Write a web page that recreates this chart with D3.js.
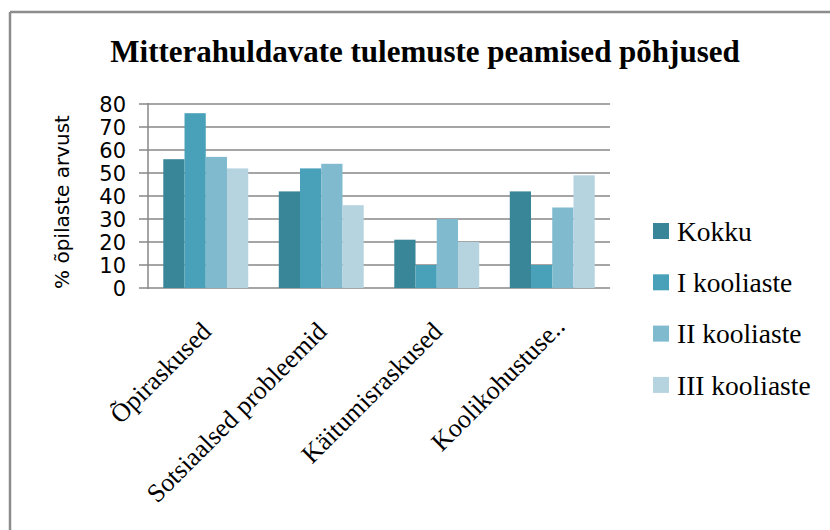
<!DOCTYPE html>
<html>
<head>
<meta charset="utf-8">
<script src="https://cdn.jsdelivr.net/npm/d3@7"></script>
<style>
  body { margin: 0; background: #fff; }
  svg { display: block; }
</style>
</head>
<body>
<svg id="chart" width="830" height="530"></svg>
<script>
const categories = ['Õpiraskused', 'Sotsiaalsed probleemid', 'Käitumisraskused', 'Koolikohustuse..'];
const seriesNames = ['Kokku', 'I kooliaste', 'II kooliaste', 'III kooliaste'];
const kokku = [56, 42, 21, 42];
const iKooliaste = [76, 52, 10, 10];
const iiKooliaste = [57, 54, 30, 35];
const iiiKooliaste = [52, 36, 20, 49];
const yTicks = [0, 10, 20, 30, 40, 50, 60, 70, 80];
const colors = ['#3a8699', '#48a1b9', '#7fbacf', '#b6d4e0'];

const values = [kokku, iKooliaste, iiKooliaste, iiiKooliaste];
const rows = categories.map((c, i) => ({
  cat: c,
  vals: seriesNames.map((s, j) => ({ s: s, v: values[j][i], j: j }))
}));

const svg = d3.select('#chart');

// frame (only left and top edges show)
svg.append('line').attr('x1', 10).attr('y1', 12).attr('x2', 10).attr('y2', 530)
  .attr('stroke', '#8c8c8c').attr('stroke-width', 2.5);
svg.append('line').attr('x1', 10).attr('y1', 12).attr('x2', 830).attr('y2', 12)
  .attr('stroke', '#8c8c8c').attr('stroke-width', 2.5);

const plotL = 148, plotR = 610, plotT = 104, plotB = 288;

const x = d3.scaleBand().domain(categories).range([plotL, plotR]).padding(0);
const xs = d3.scaleBand().domain(seriesNames).range([0, x.bandwidth()])
  .paddingInner(0).paddingOuter(0.72);
const y = d3.scaleLinear().domain([0, 80]).range([plotB, plotT]);

// gridlines
svg.append('g')
  .selectAll('line')
  .data(yTicks)
  .enter()
  .append('line')
  .attr('x1', plotL - 9)
  .attr('x2', plotR)
  .attr('y1', d => y(d))
  .attr('y2', d => y(d))
  .attr('stroke', '#878787')
  .attr('stroke-width', 1.5);

// bars
svg.append('g')
  .selectAll('g')
  .data(rows)
  .enter()
  .append('g')
  .attr('transform', d => `translate(${x(d.cat)},0)`)
  .selectAll('rect')
  .data(d => d.vals)
  .enter()
  .append('rect')
  .attr('x', d => xs(d.s))
  .attr('y', d => y(d.v))
  .attr('width', xs.bandwidth())
  .attr('height', d => y(0) - y(d.v))
  .attr('fill', d => colors[d.j]);

// y axis line
svg.append('line').attr('x1', plotL).attr('x2', plotL).attr('y1', plotT - 1).attr('y2', plotB + 1)
  .attr('stroke', '#878787').attr('stroke-width', 1.5);

// y tick labels
svg.append('g')
  .selectAll('text')
  .data(yTicks)
  .enter()
  .append('text')
  .attr('x', 126)
  .attr('y', d => y(d))
  .attr('dy', '0.36em')
  .attr('text-anchor', 'end')
  .attr('font-family', 'DejaVu Sans')
  .attr('font-size', 21)
  .attr('fill', '#000')
  .text(d => d);

// y axis title
svg.append('text')
  .attr('transform', 'translate(69,202) rotate(-90)')
  .attr('text-anchor', 'middle')
  .attr('font-family', 'DejaVu Sans')
  .attr('font-size', 20)
  .text('% õpilaste arvust');

// x labels
svg.append('g')
  .selectAll('text')
  .data(categories)
  .enter()
  .append('text')
  .attr('transform', (d, i) => `translate(${x(d) + x.bandwidth() / 2 + (i === 3 ? 14 : 7)},${i === 3 ? 328 : 333}) rotate(-45)`)
  .attr('text-anchor', 'end')
  .attr('font-family', 'Liberation Serif')
  .attr('font-size', 26)
  .text(d => d);

// title
svg.append('text')
  .attr('x', 425)
  .attr('y', 62)
  .attr('text-anchor', 'middle')
  .attr('font-family', 'Liberation Serif')
  .attr('font-weight', 'bold')
  .attr('font-size', 31)
  .text('Mitterahuldavate tulemuste peamised põhjused');

// legend
const legend = svg.append('g')
  .selectAll('g')
  .data(seriesNames)
  .enter()
  .append('g')
  .attr('transform', (d, i) => `translate(653,${231 + i * 51.3})`);
legend.append('rect')
  .attr('x', 0).attr('y', -8).attr('width', 16).attr('height', 16)
  .attr('fill', (d, i) => colors[i]);
legend.append('text')
  .attr('x', 24)
  .attr('y', 0)
  .attr('dy', '0.35em')
  .attr('font-family', 'Liberation Serif')
  .attr('font-size', 27.5)
  .text(d => d);
</script>
</body>
</html>
